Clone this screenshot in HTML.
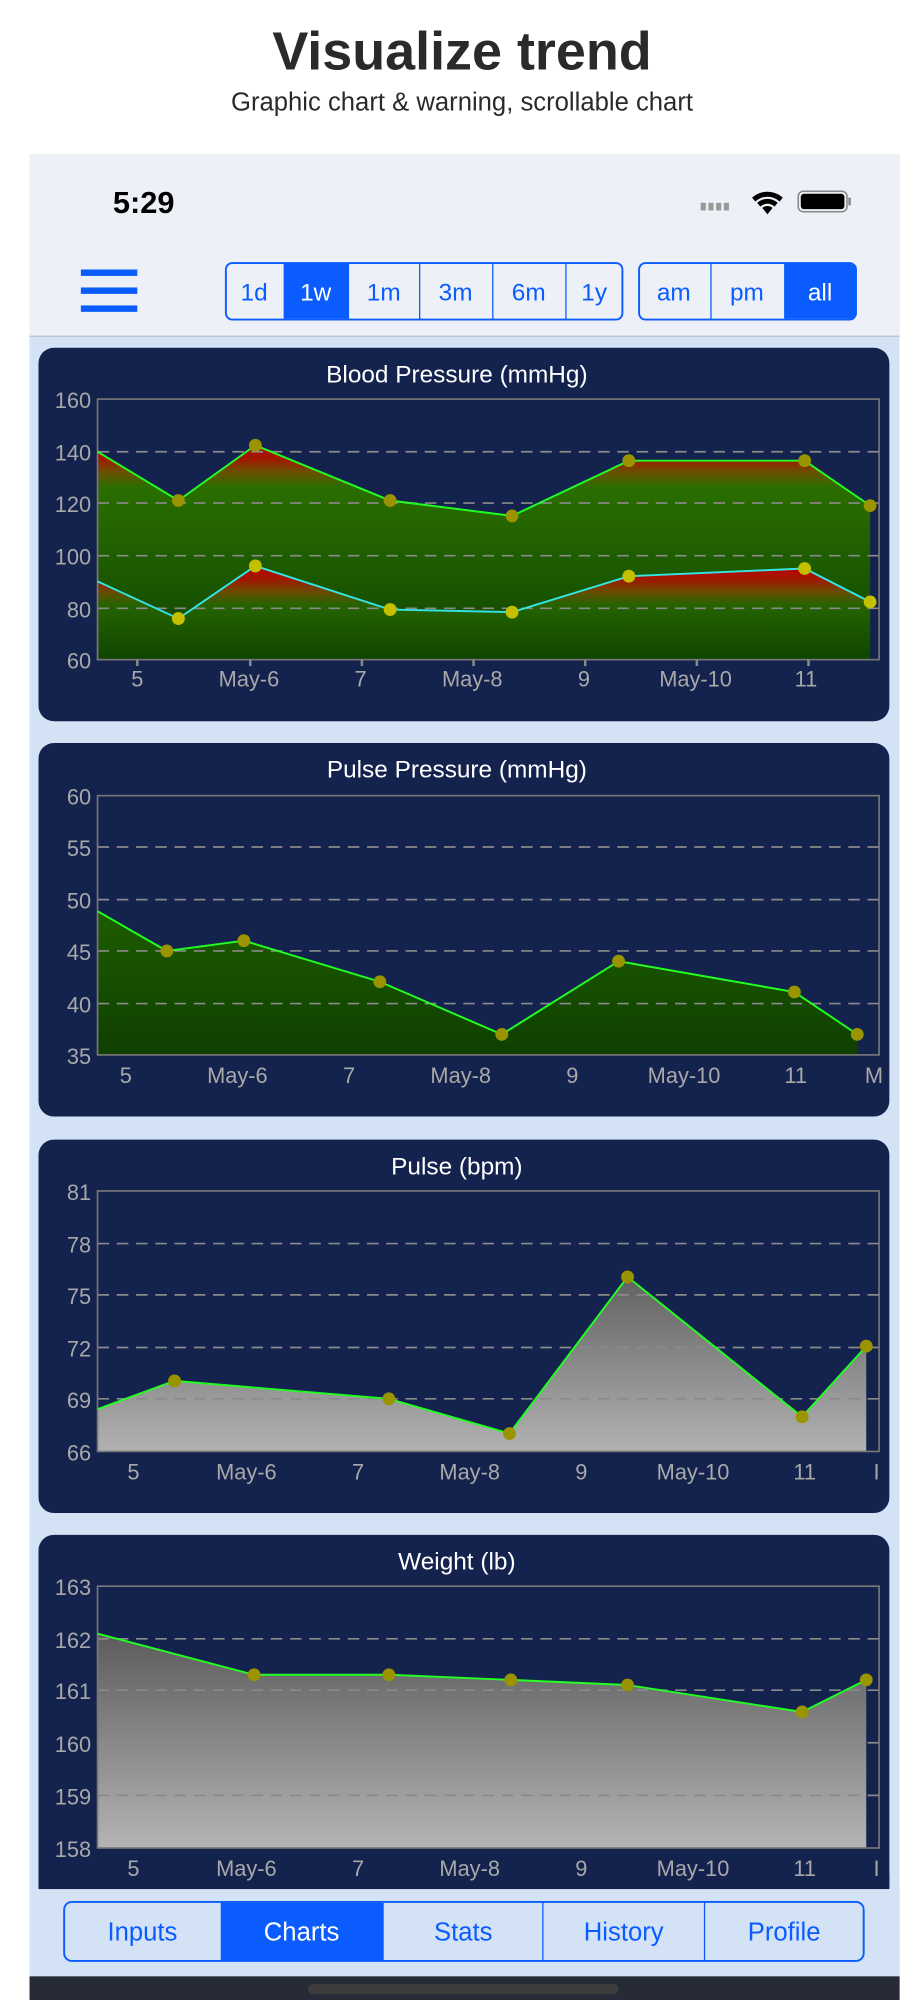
<!DOCTYPE html>
<html><head><meta charset="utf-8"><style>
html,body{margin:0;padding:0;background:#fff;}
svg{display:block;}
text{font-family:"Liberation Sans",sans-serif;}
</style></head><body>
<svg width="924" height="2000" viewBox="0 0 720 1558.44" xmlns="http://www.w3.org/2000/svg">
<defs>
<linearGradient id="gSys" x1="0" y1="311" x2="0" y2="514" gradientUnits="userSpaceOnUse">
<stop offset="0.15" stop-color="#c00000"/><stop offset="0.23" stop-color="#a01800"/><stop offset="0.28" stop-color="#6a5000"/><stop offset="0.34" stop-color="#2a6e00"/><stop offset="1" stop-color="#0e4400"/></linearGradient>
<linearGradient id="gDia" x1="0" y1="436" x2="0" y2="514" gradientUnits="userSpaceOnUse">
<stop offset="0.05" stop-color="#c00000"/><stop offset="0.2" stop-color="#a01800"/><stop offset="0.32" stop-color="#6a4a00"/><stop offset="0.45" stop-color="#266400"/><stop offset="1" stop-color="#0e4400"/></linearGradient>
<linearGradient id="gPP" x1="0" y1="700" x2="0" y2="822" gradientUnits="userSpaceOnUse">
<stop offset="0" stop-color="#1f5f00"/><stop offset="1" stop-color="#0e3f00"/></linearGradient>
<linearGradient id="gGray1" x1="0" y1="990" x2="0" y2="1131" gradientUnits="userSpaceOnUse">
<stop offset="0" stop-color="#5e5e5e"/><stop offset="1" stop-color="#b2b2b2"/></linearGradient>
<linearGradient id="gGray2" x1="0" y1="1270" x2="0" y2="1440" gradientUnits="userSpaceOnUse">
<stop offset="0" stop-color="#5a5a5a"/><stop offset="1" stop-color="#b4b4b4"/></linearGradient>
</defs>
<rect width="720" height="1558.44" fill="#fff"/>
<text x="360" y="54" font-size="42" font-weight="bold" text-anchor="middle" fill="#2a2a2a">Visualize trend</text>
<text x="360" y="86" font-size="20" text-anchor="middle" fill="#2a2a2a">Graphic chart &amp; warning, scrollable chart</text>
<rect x="23" y="120" width="678" height="1448" fill="#d3e2f5"/>
<rect x="23" y="120" width="678" height="142" fill="#edf0f6"/>
<line x1="23" y1="262" x2="701" y2="262" stroke="#b8c0cc" stroke-width="1"/>
<text x="88" y="166" font-size="24" font-weight="bold" fill="#000">5:29</text>
<g fill="#999"><rect x="546" y="158" width="4" height="6"/><rect x="552" y="158" width="4" height="6"/><rect x="558" y="158" width="4" height="6"/><rect x="564" y="158" width="4" height="6"/></g>
<path d="M586 154 a18 18 0 0 1 24 0 l-2.5 3 a14 14 0 0 0 -19 0 z M590 158 a12 12 0 0 1 16 0 l-2.5 3 a8 8 0 0 0 -11 0z M594 162 a6 6 0 0 1 8 0 l-4 5z" fill="#000"/>
<rect x="622" y="149" width="38" height="16" rx="4" fill="none" stroke="#888" stroke-width="1.2"/>
<rect x="624" y="151" width="34" height="12" rx="2.5" fill="#000"/>
<rect x="661" y="154" width="2" height="6" fill="#888"/>
<g fill="#0a5cff"><rect x="63" y="210" width="44" height="5"/><rect x="63" y="224" width="44" height="5"/><rect x="63" y="238" width="44" height="5"/></g>
<rect x="176" y="205" width="309" height="44" rx="5" fill="#edf0f6" stroke="#0a5cff" stroke-width="1.5"/>
<rect x="221" y="205.7" width="51" height="42.6" fill="#0a5cff"/>
<g stroke="#0a5cff" stroke-width="1"><line x1="327" y1="205" x2="327" y2="249"/><line x1="384" y1="205" x2="384" y2="249"/><line x1="441" y1="205" x2="441" y2="249"/></g>
<g font-size="19" text-anchor="middle" fill="#0a5cff"><text x="198" y="234">1d</text><text x="246" y="234" fill="#fff">1w</text><text x="299" y="234">1m</text><text x="355" y="234">3m</text><text x="412" y="234">6m</text><text x="463" y="234">1y</text></g>
<rect x="498" y="205" width="169" height="44" rx="5" fill="#edf0f6" stroke="#0a5cff" stroke-width="1.5"/>
<path d="M611 205.7 H662 a4.5 4.5 0 0 1 4.5 4.5 V243.8 a4.5 4.5 0 0 1 -4.5 4.5 H611 z" fill="#0a5cff"/>
<line x1="554" y1="205" x2="554" y2="249" stroke="#0a5cff"/>
<g font-size="19" text-anchor="middle" fill="#0a5cff"><text x="525" y="234">am</text><text x="582" y="234">pm</text><text x="639" y="234" fill="#fff">all</text></g>

<rect x="30" y="271" width="663" height="291" rx="12" fill="#14234e"/>
<text x="356" y="298" font-size="19" text-anchor="middle" fill="#fff">Blood Pressure (mmHg)</text>
<path d="M76 352 L139 390 L199 347 L304 390 L399 402 L490 359 L627 359 L678 394 V514 H76Z" fill="url(#gSys)"/>
<path d="M76 453 L139 482 L199 441 L304 475 L399 477 L490 449 L627 443 L678 469 V514 H76Z" fill="url(#gDia)"/>
<g stroke="#8a8a8a" stroke-width="1.3" stroke-dasharray="9,6"><line x1="76" y1="352" x2="685" y2="352"/><line x1="76" y1="392" x2="685" y2="392"/><line x1="76" y1="433" x2="685" y2="433"/><line x1="76" y1="474" x2="685" y2="474"/></g>
<rect x="76" y="311" width="609" height="203" fill="none" stroke="#777" stroke-width="1.3"/>
<polyline points="76,352 139,390 199,347 304,390 399,402 490,359 627,359 678,394" fill="none" stroke="#22ff22" stroke-width="1.5"/>
<polyline points="76,453 139,482 199,441 304,475 399,477 490,449 627,443 678,469" fill="none" stroke="#33e6e6" stroke-width="1.5"/>
<g fill="#9a9400"><circle cx="139" cy="390" r="5"/><circle cx="199" cy="347" r="5"/><circle cx="304" cy="390" r="5"/><circle cx="399" cy="402" r="5"/><circle cx="490" cy="359" r="5"/><circle cx="627" cy="359" r="5"/><circle cx="678" cy="394" r="5"/></g>
<g fill="#c4c000"><circle cx="139" cy="482" r="5"/><circle cx="199" cy="441" r="5"/><circle cx="304" cy="475" r="5"/><circle cx="399" cy="477" r="5"/><circle cx="490" cy="449" r="5"/><circle cx="627" cy="443" r="5"/><circle cx="678" cy="469" r="5"/></g>
<g font-size="17" fill="#a8a8a8" text-anchor="end"><text x="71" y="318">160</text><text x="71" y="359">140</text><text x="71" y="399">120</text><text x="71" y="440">100</text><text x="71" y="481">80</text><text x="71" y="521">60</text></g>
<g stroke="#888" stroke-width="2"><line x1="107" y1="514" x2="107" y2="519"/><line x1="195" y1="514" x2="195" y2="519"/><line x1="282" y1="514" x2="282" y2="519"/><line x1="369" y1="514" x2="369" y2="519"/><line x1="456" y1="514" x2="456" y2="519"/><line x1="543" y1="514" x2="543" y2="519"/><line x1="630" y1="514" x2="630" y2="519"/></g>
<g font-size="17" fill="#a8a8a8" text-anchor="middle"><text x="107" y="535">5</text><text x="194" y="535">May-6</text><text x="281" y="535">7</text><text x="368" y="535">May-8</text><text x="455" y="535">9</text><text x="542" y="535">May-10</text><text x="628" y="535">11</text></g>

<rect x="30" y="579" width="663" height="291" rx="12" fill="#14234e"/>
<text x="356" y="606" font-size="19" text-anchor="middle" fill="#fff">Pulse Pressure (mmHg)</text>
<path d="M76 710 L130 741 L190 733 L296 765 L391 806 L482 749 L619 773 L668 806 V822 H76Z" fill="url(#gPP)"/>
<g stroke="#8a8a8a" stroke-width="1.3" stroke-dasharray="9,6"><line x1="76" y1="660" x2="685" y2="660"/><line x1="76" y1="701" x2="685" y2="701"/><line x1="76" y1="741" x2="685" y2="741"/><line x1="76" y1="782" x2="685" y2="782"/></g>
<rect x="76" y="620" width="609" height="202" fill="none" stroke="#777" stroke-width="1.3"/>
<polyline points="76,710 130,741 190,733 296,765 391,806 482,749 619,773 668,806" fill="none" stroke="#22ff22" stroke-width="1.5"/>
<g fill="#9a9400"><circle cx="130" cy="741" r="5"/><circle cx="190" cy="733" r="5"/><circle cx="296" cy="765" r="5"/><circle cx="391" cy="806" r="5"/><circle cx="482" cy="749" r="5"/><circle cx="619" cy="773" r="5"/><circle cx="668" cy="806" r="5"/></g>
<g font-size="17" fill="#a8a8a8" text-anchor="end"><text x="71" y="627">60</text><text x="71" y="667">55</text><text x="71" y="708">50</text><text x="71" y="748">45</text><text x="71" y="789">40</text><text x="71" y="829">35</text></g>
<g font-size="17" fill="#a8a8a8" text-anchor="middle"><text x="98" y="844">5</text><text x="185" y="844">May-6</text><text x="272" y="844">7</text><text x="359" y="844">May-8</text><text x="446" y="844">9</text><text x="533" y="844">May-10</text><text x="620" y="844">11</text><text x="681" y="844">M</text></g>

<rect x="30" y="888" width="663" height="291" rx="12" fill="#14234e"/>
<text x="356" y="915" font-size="19" text-anchor="middle" fill="#fff">Pulse (bpm)</text>
<path d="M76 1098 L136 1076 L303 1090 L397 1117 L489 995 L625 1104 L675 1049 V1131 H76Z" fill="url(#gGray1)"/>
<g stroke="#8a8a8a" stroke-width="1.3" stroke-dasharray="9,6"><line x1="76" y1="969" x2="685" y2="969"/><line x1="76" y1="1009" x2="685" y2="1009"/><line x1="76" y1="1050" x2="685" y2="1050"/><line x1="76" y1="1090" x2="685" y2="1090"/></g>
<rect x="76" y="928" width="609" height="203" fill="none" stroke="#777" stroke-width="1.3"/>
<polyline points="76,1098 136,1076 303,1090 397,1117 489,995 625,1104 675,1049" fill="none" stroke="#22ff22" stroke-width="1.5"/>
<g fill="#9a9400"><circle cx="136" cy="1076" r="5"/><circle cx="303" cy="1090" r="5"/><circle cx="397" cy="1117" r="5"/><circle cx="489" cy="995" r="5"/><circle cx="625" cy="1104" r="5"/><circle cx="675" cy="1049" r="5"/></g>
<g font-size="17" fill="#a8a8a8" text-anchor="end"><text x="71" y="935">81</text><text x="71" y="976">78</text><text x="71" y="1016">75</text><text x="71" y="1057">72</text><text x="71" y="1097">69</text><text x="71" y="1138">66</text></g>
<g font-size="17" fill="#a8a8a8" text-anchor="middle"><text x="104" y="1153">5</text><text x="192" y="1153">May-6</text><text x="279" y="1153">7</text><text x="366" y="1153">May-8</text><text x="453" y="1153">9</text><text x="540" y="1153">May-10</text><text x="627" y="1153">11</text><text x="683" y="1153">I</text></g>

<rect x="30" y="1196" width="663" height="285" rx="12" fill="#14234e"/>
<rect x="30" y="1460" width="663" height="12" fill="#14234e"/>
<text x="356" y="1223" font-size="19" text-anchor="middle" fill="#fff">Weight (lb)</text>
<path d="M76 1273 L198 1305 L303 1305 L398 1309 L489 1313 L625 1334 L675 1309 V1440 H76Z" fill="url(#gGray2)"/>
<g stroke="#8a8a8a" stroke-width="1.3" stroke-dasharray="9,6"><line x1="76" y1="1277" x2="685" y2="1277"/><line x1="76" y1="1317" x2="685" y2="1317"/><line x1="76" y1="1358" x2="685" y2="1358"/><line x1="76" y1="1399" x2="685" y2="1399"/></g>
<rect x="76" y="1236" width="609" height="204" fill="none" stroke="#777" stroke-width="1.3"/>
<polyline points="76,1273 198,1305 303,1305 398,1309 489,1313 625,1334 675,1309" fill="none" stroke="#22ff22" stroke-width="1.5"/>
<g fill="#9a9400"><circle cx="198" cy="1305" r="5"/><circle cx="303" cy="1305" r="5"/><circle cx="398" cy="1309" r="5"/><circle cx="489" cy="1313" r="5"/><circle cx="625" cy="1334" r="5"/><circle cx="675" cy="1309" r="5"/></g>
<g font-size="17" fill="#a8a8a8" text-anchor="end"><text x="71" y="1243">163</text><text x="71" y="1284">162</text><text x="71" y="1324">161</text><text x="71" y="1365">160</text><text x="71" y="1406">159</text><text x="71" y="1447">158</text></g>
<g font-size="17" fill="#a8a8a8" text-anchor="middle"><text x="104" y="1462">5</text><text x="192" y="1462">May-6</text><text x="279" y="1462">7</text><text x="366" y="1462">May-8</text><text x="453" y="1462">9</text><text x="540" y="1462">May-10</text><text x="627" y="1462">11</text><text x="683" y="1462">I</text></g>

<rect x="23" y="1472" width="678" height="68" fill="#d3e2f5"/>
<rect x="50" y="1482" width="623" height="46" rx="6" fill="#d3e2f5" stroke="#0a5cff" stroke-width="1.5"/>
<rect x="172" y="1482.7" width="127" height="44.6" fill="#0a5cff"/>
<g stroke="#0a5cff"><line x1="423" y1="1482" x2="423" y2="1528"/><line x1="549" y1="1482" x2="549" y2="1528"/></g>
<g font-size="20" text-anchor="middle" fill="#0a5cff"><text x="111" y="1512">Inputs</text><text x="235" y="1512" fill="#fff">Charts</text><text x="361" y="1512">Stats</text><text x="486" y="1512">History</text><text x="611" y="1512">Profile</text></g>
<rect x="23" y="1540" width="678" height="18.5" fill="#272b38"/>
<rect x="240" y="1546" width="242" height="8" rx="4" fill="#3d3d3d"/>
</svg>
</body></html>
